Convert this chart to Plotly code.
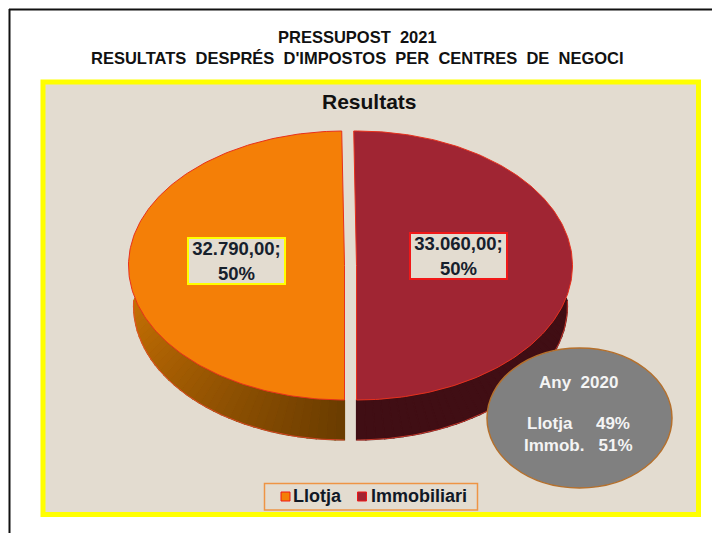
import math
import plotly.graph_objects as go

# ---- data ----
categories = ["Llotja", "Immobiliari"]
values = [32790.0, 33060.0]
prev_year = "Any\u00a0\u00a02020"
prev_labels = ["Llotja", "Immob."]
prev_pct = [49, 51]
title_lines = ["PRESSUPOST\u00a0\u00a02021",
               "RESULTATS\u00a0\u00a0DESPRÉS\u00a0\u00a0D'IMPOSTOS\u00a0\u00a0PER\u00a0\u00a0CENTRES\u00a0\u00a0DE\u00a0\u00a0NEGOCI"]
chart_title = "Resultats"

# ---- styles ----
W, H = 712, 533
FONT = "Liberation Sans"
top_colors = ["#F47F07", "#A02533"]
edge = "#E8301C"
wall_from = [(198, 112, 4), (64, 14, 20)]
wall_to = [(106, 60, 0), (64, 14, 20)]

# projection of the tilted pie into pixel space
CY, RX, RY, DEPTH, RX_BOTTOM = 265.5, 216.0, 134.5, 40.0, 211.0
CENTERS = [344.5, 356.5]
START = 180.0   # first slice angle, clockwise from 12 o'clock


def pt(cx, deg, dy=0.0, rx=RX):
    r = math.radians(deg)
    return cx + rx * math.sin(r), CY - RY * math.cos(r) + dy


total = sum(values)
spans = []
a = START
for v in values:
    b = a + 360.0 * v / total
    spans.append((a, b))
    a = b

fig = go.Figure()

# walls: only the front part of each slice is visible; the rim of the base
# meets the rim of the top face a little below the ellipse's horizontal axis
end = spans[1][1] % 360.0
wall_top = [(spans[0][0], 256.0), (104.0, end)]
wall_bottom = [(spans[0][0], 272.0), (88.0, end)]
for i in range(2):
    cx = CENTERS[i]
    n = 36
    (t0, t1), (b0, b1) = wall_top[i], wall_bottom[i]
    for k in range(n):
        f0, f1 = k / n, (k + 1) / n
        p0, p1 = pt(cx, t0 + (t1 - t0) * f0), pt(cx, t0 + (t1 - t0) * f1)
        q0 = pt(cx, b0 + (b1 - b0) * f0, DEPTH, RX_BOTTOM)
        q1 = pt(cx, b0 + (b1 - b0) * f1, DEPTH, RX_BOTTOM)
        t = (k + 0.5) / n
        if i == 0:
            t = 1 - t
        col = [round(wall_from[i][c] + (wall_to[i][c] - wall_from[i][c]) * t) for c in range(3)]
        css = f"rgb({col[0]},{col[1]},{col[2]})"
        fig.add_trace(go.Scatter(
            x=[p0[0], p1[0], q1[0], q0[0], p0[0]], y=[p0[1], p1[1], q1[1], q0[1], p0[1]],
            mode="lines", fill="toself", fillcolor=css, line=dict(color=css, width=1.2),
            hoverinfo="skip", showlegend=False))
    arc = [pt(cx, b0 + (b1 - b0) * k / 90, DEPTH, RX_BOTTOM) for k in range(91)]
    fig.add_trace(go.Scatter(x=[p[0] for p in arc], y=[p[1] for p in arc], mode="lines",
                             line=dict(color="rgba(240,70,50,0.75)", width=1),
                             hoverinfo="skip", showlegend=False))

# top faces
for i, (a, b) in enumerate(spans):
    cx = CENTERS[i]
    pts = [(cx, CY)] + [pt(cx, a + (b - a) * k / 180) for k in range(181)] + [(cx, CY)]
    fig.add_trace(go.Scatter(
        x=[p[0] for p in pts], y=[p[1] for p in pts], mode="lines", fill="toself",
        fillcolor=top_colors[i], line=dict(color=edge, width=1), name=categories[i],
        hoverinfo="skip", showlegend=False))

ann = []


def add_text(x, y, text, size, color="#111", bold=True, **kw):
    ann.append(dict(x=x, y=y, xref="x", yref="y", text=f"<b>{text}</b>" if bold else text,
                    showarrow=False, font=dict(family=FONT, size=size, color=color), **kw))


add_text(357, 37, title_lines[0], 16.5)
add_text(357, 58, title_lines[1], 16.5)
add_text(369, 101, chart_title, 21)


def lab(v, tot):
    s = f"{v:,.2f}".replace(",", "#").replace(".", ",").replace("#", ".")
    return f"{s};<br>{round(100 * v / tot)}%"


add_text(236.5, 261, lab(values[0], total), 18.5, color="#16202C", bgcolor="#E3DCD0",
         bordercolor="#FFFF00", borderwidth=2, width=95, height=44, borderpad=0)
add_text(458.5, 256, lab(values[1], total), 18.5, color="#16202C", bgcolor="#E3DCD0",
         bordercolor="#F01818", borderwidth=2, width=95, height=44, borderpad=0)

add_text(578, 382, prev_year, 17, color="#F4F4F4")
add_text(578, 423, f"{prev_labels[0]}\u00a0\u00a0\u00a0\u00a0\u00a0{prev_pct[0]}%", 17, color="#F4F4F4")
add_text(578, 445, f"{prev_labels[1]}\u00a0\u00a0\u00a0{prev_pct[1]}%", 17, color="#F4F4F4")

# legend
legend_text_x = [293, 371]
legend_swatch_x = [281, 357.5]
for i, c in enumerate(categories):
    add_text(legend_text_x[i], 496, c, 18, color="#101826", xanchor="left", xshift=-2)

shapes = [
    dict(type="line", x0=9, y0=9.5, x1=712, y1=9.5, xref="x", yref="y",
         line=dict(color="#111", width=2), layer="below"),
    dict(type="line", x0=9.5, y0=9, x1=9.5, y1=533, xref="x", yref="y",
         line=dict(color="#111", width=2), layer="below"),
    dict(type="rect", x0=43, y0=82, x1=698.5, y1=514.5, xref="x", yref="y",
         fillcolor="#E3DCD0", line=dict(color="#FFFF00", width=5), layer="below"),
    dict(type="circle", x0=487, y0=348, x1=672, y1=488, xref="x", yref="y",
         fillcolor="#808080", line=dict(color="#B5702C", width=1.5), layer="above"),
    dict(type="rect", x0=264.5, y0=483.5, x1=477.5, y1=510, xref="x", yref="y",
         line=dict(color="#EE9444", width=1.5), layer="above"),
]
for i in range(2):
    shapes.append(dict(type="rect", x0=legend_swatch_x[i], y0=492, x1=legend_swatch_x[i] + 9, y1=501,
                       xref="x", yref="y", fillcolor=top_colors[i],
                       line=dict(color="#F01818", width=1), layer="above"))

fig.update_layout(
    width=W, height=H, margin=dict(l=0, r=0, t=0, b=0), paper_bgcolor="white", plot_bgcolor="rgba(0,0,0,0)",
    xaxis=dict(range=[0, W], visible=False, fixedrange=True),
    yaxis=dict(range=[H, 0], visible=False, fixedrange=True),
    shapes=shapes, annotations=ann, showlegend=False,
)
fig.write_html("out.html", config={"displayModeBar": False},
               post_script="document.body.style.margin='0';")
